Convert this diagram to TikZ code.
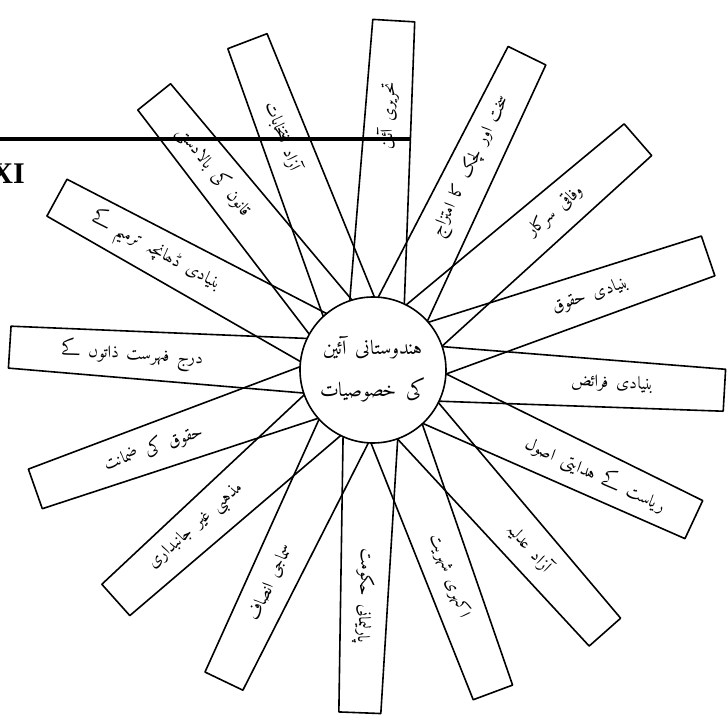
\documentclass[tikz,border=0pt]{standalone}
\usepackage{fontspec}
\setmainfont{Liberation Serif}
\IfFontExistsTF{Amiri}
  {\newfontfamily\urdu[Script=Arabic,WordSpace=1.6]{Amiri}\def\lblsize{17}\def\hubsize{20}}
  {\newfontfamily\urdu[Script=Arabic]{DejaVu Sans}\def\lblsize{13}\def\hubsize{15}}
\TeXXeTstate=1
\begin{document}
\begin{tikzpicture}[x=1pt,y=1pt,
  raybox/.style={line width=1.6pt, line join=round, line cap=round},
  lbl/.style={font=\urdu\fontsize{\lblsize}{18}\selectfont, inner sep=0pt},
  hubtxt/.style={font=\urdu\fontsize{\hubsize}{22}\selectfont, inner sep=0pt},
  hub/.style={draw, circle, line width=1.6pt, minimum size=146pt, fill=white, inner sep=0pt}]
\fill[white] (-373,-355) rectangle (355,370);
\useasboundingbox (-373,-355) rectangle (355,370);
\foreach \a/\L/\d/\r/\t [count=\i] in {
  86.6/350/255/86.6/تحریری آئین,
  63.9/350/226/63.9/سخت اور لچک کا امتزاج,
  41/351/242/41/وفاقی سرکار,
  18.8/354/230/18.8/بنیادی حقوق,
  -3.3/352/240/-3.3/بنیادی فرائض,
  -25/354/246/-25/ریاست کے ہدایتی اصول,
  -48.5/350/237/-48.5/آزاد عدلیہ,
  -69.6/344/220/-69.6/اکہری شہریت,
  -92.2/343/226/-92.2/پارلیمانی حکومت,
  -115.6/345/236/64.4/سماجی انصاف,
  -138.2/345/236/41.8/مذہبی غیر جانبداری,
  199.4/358/233/19.4/حقوق کی ضمانت,
  176.4/364/241/-3.6/درج فہرست ذاتوں کے,
  151.4/360/247/-28.6/بنیادی ڈھانچہ ترمیم کے,
  128.7/350/254/-51.3/قانون کی بالادستی,
  110.9/352/250/-69.1/آزاد انتخابات}{
  \draw[raybox] (\a+22:73) -- ([shift={(\a+90:21)}]\a:\L) -- ([shift={(\a-90:21)}]\a:\L) -- (\a-22:73);
  \node[lbl, rotate=\r] (l\i) at (\a:\d) {\beginR\t\endR};
}
\node[hub] (c) at (0,0) {};
\node[hubtxt] (c1) at (0,22) {\beginR ہندوستانی آئین\endR};
\node[hubtxt] (c2) at (0,-20) {\beginR کی خصوصیات\endR};
\coordinate (barL) at (-373,231);
\coordinate (barR) at (37,231);
\draw[line width=4.5pt] (barL) -- (barR);
\node[anchor=base east, inner sep=0pt, font=\bfseries\fontsize{30}{30}\selectfont] (xi) at (-348,186) {XI};
\end{tikzpicture}
\end{document}
